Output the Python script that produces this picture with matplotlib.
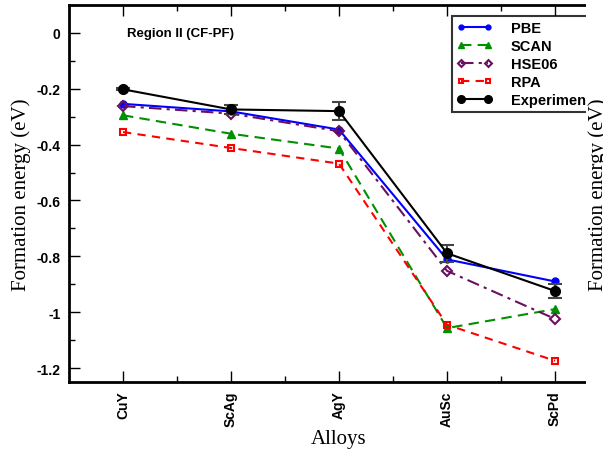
import numpy as np
import matplotlib
matplotlib.use('Agg')
import matplotlib.pyplot as plt
from matplotlib.patches import Rectangle
from matplotlib.lines import Line2D

alloys = ['CuY', 'ScAg', 'AgY', 'AuSc', 'ScPd']
pbe = [-0.254, -0.281, -0.346, -0.811, -0.890]
scan = [-0.295, -0.361, -0.414, -1.057, -0.989]
hse06 = [-0.262, -0.289, -0.352, -0.852, -1.024]
rpa = [-0.355, -0.412, -0.468, -1.045, -1.174]
expt = [-0.202, -0.274, -0.280, -0.789, -0.924]
expt_err = [0.004, 0.017, 0.033, 0.030, 0.025]

sans = ['Liberation Sans', 'DejaVu Sans']
serif = ['Liberation Serif', 'DejaVu Serif']

fig = plt.figure(figsize=(6.03, 4.56), dpi=100)
W, H = 603, 456
ax = fig.add_axes([69 / W, 1 - 383 / H, 540 / W, 377 / H])

x = np.arange(1, len(alloys) + 1)
styles = [
    dict(ls='-', color='#0000ff', marker='o', ms=5),
    dict(ls='--', color='#009000', marker='^', ms=6, dashes=(5, 3)),
    dict(ls='-.', color='#6b1060', marker='D', ms=5, mfc='none', mew=1.5,
         dashes=(6, 2.5, 1.5, 2.5)),
    dict(ls='--', color='#ff0000', marker='s', ms=5, mfc='none', mew=1.5,
         dashes=(4, 3)),
    dict(ls='-', color='black', marker='o', ms=7),
]
names = ['PBE', 'SCAN', 'HSE06', 'RPA', 'Experiment']

for vals, st in zip([pbe, scan, hse06, rpa], styles[:4]):
    ax.plot(x, vals, lw=1.5, **st)
ax.errorbar(x, expt, yerr=expt_err, fmt='-', color='black', lw=1.5,
            marker='o', ms=7, ecolor='#444444', elinewidth=1.5, capsize=5,
            capthick=1.5)

ax.set_xlim(0.5, 5.5)
ax.set_ylim(-1.25, 0.1)
ax.set_xticks(x)
ax.set_xticks(x[:-1] + 0.5, minor=True)
ax.set_xticklabels(alloys, rotation=90, fontweight='bold', fontsize=10,
                   family=sans)
ax.set_yticks([0, -0.2, -0.4, -0.6, -0.8, -1.0, -1.2])
ax.set_yticklabels(['0', '-0.2', '-0.4', '-0.6', '-0.8', '-1', '-1.2'],
                   fontweight='bold', fontsize=10, family=sans)
ax.set_yticks(np.arange(-1.1, 0.1, 0.2), minor=True)
ax.tick_params(which='both', direction='in', top=True, right=False, width=1)
ax.tick_params(which='major', length=8, pad=6)
ax.tick_params(which='minor', length=4)
for s in ['left', 'bottom', 'top']:
    ax.spines[s].set_linewidth(2)
ax.spines['right'].set_visible(False)

ax.set_ylabel('Formation energy (eV)', family=serif, fontsize=15, labelpad=4)
ax.set_xlabel('Alloys', family=serif, fontsize=15, labelpad=2)

ax.text(127 / W, 1 - 34 / H, 'Region II (CF-PF)', transform=fig.transFigure,
        fontweight='bold', fontsize=9.5, family=sans, va='center')

# legend markers are drawn a bit smaller than in the plot
handles = []
for st in styles:
    st = dict(st)
    st['ms'] = st['ms'] - 1.5
    handles.append(Line2D([], [], lw=1.5, **st))
leg = ax.legend(handles, names, loc='upper left',
                bbox_to_anchor=(452 / W, 1 - 17 / H),
                bbox_transform=fig.transFigure, frameon=True, fancybox=False,
                prop={'family': sans, 'weight': 'bold', 'size': 10.5},
                numpoints=2, handlelength=2.4, borderpad=0.35,
                labelspacing=0.27, handletextpad=1.3, borderaxespad=0)
leg.get_frame().set_edgecolor('black')
leg.get_frame().set_linewidth(1.5)

# neighbouring panel covers the right edge
fig.patches.append(Rectangle((586 / W, 0), 20 / W, 1, transform=fig.transFigure,
                             facecolor='white', edgecolor='none', zorder=10))
fig.text(598 / W, 1 - 195 / H, 'Formation energy (eV)', rotation=90,
         family=serif, fontsize=15, ha='center', va='center', zorder=11)

fig.savefig('out.png', dpi=100)
